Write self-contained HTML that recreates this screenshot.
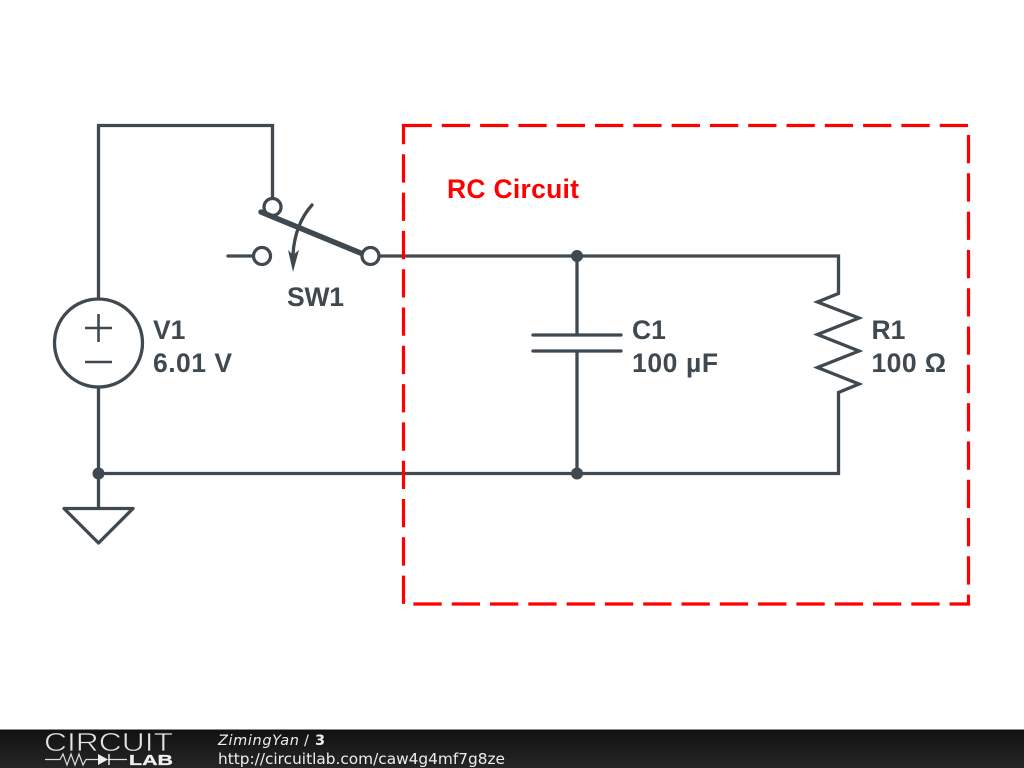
<!DOCTYPE html>
<html><head><meta charset="utf-8"><style>
html,body{margin:0;padding:0;background:#fff;width:1024px;height:768px;overflow:hidden}
svg{display:block}
</style></head><body>
<svg width="1024" height="768" viewBox="0 0 1024 768" xmlns="http://www.w3.org/2000/svg">
<defs><linearGradient id="g" x1="0" y1="0" x2="0" y2="1"><stop offset="0" stop-color="#111"/><stop offset="1" stop-color="#262626"/></linearGradient></defs>
<rect width="1024" height="768" fill="#fff"/>
<g fill="none" stroke="#40494f" stroke-width="3.300">
<path d="M98.500 299V125.500H272.500V199"/>
<path d="M379 256H838.500V293.500L817.500 302L859 318L817.500 334.500L859 351L817.500 367.500L859 384L838.500 392.500V473.500H98.500V387"/>
<path d="M577 256V335M577 351V473"/>
<path d="M533 335H621M533 351H621" stroke-linecap="round"/>
<path d="M98.500 473V508M64 508.500H133L98.500 543Z" stroke-linejoin="round"/>
<circle cx="98.500" cy="343" r="44"/>
<path d="M85 328H112M98.500 314V342M85 362H112" stroke-width="2.600"/>
<path d="M228 256H254" stroke-linecap="round"/>
<circle cx="272.500" cy="207" r="8.500" fill="#fff"/>
<circle cx="262" cy="256" r="8.500" fill="#fff"/>
<path d="M261 212L363 254" stroke-width="5.500" stroke-linecap="round"/>
<circle cx="370.500" cy="256" r="8.500" fill="#fff"/>
<path d="M312 205Q295 224 293 254" stroke-linecap="round"/>
</g>
<path d="M293 272L288 250L293 255L299 250Z" fill="#40494f"/>
<circle cx="577" cy="256" r="6" fill="#40494f"/>
<circle cx="577" cy="473.500" r="6" fill="#40494f"/>
<circle cx="98.500" cy="473.500" r="6" fill="#40494f"/>
<path d="M403.500 125.500H968.500V604H403.500Z" fill="none" stroke="#f00" stroke-width="3.200" stroke-dasharray="28.300 10"/>
<g font-family="'Liberation Sans',sans-serif" font-weight="bold" font-size="26.500" fill="#40494f">
<text x="153" y="339">V1</text>
<text x="153" y="372" textLength="79" lengthAdjust="spacing">6.01 V</text>
<text x="287" y="306" textLength="57" lengthAdjust="spacing">SW1</text>
<text x="632" y="339">C1</text>
<text x="632" y="372" textLength="86" lengthAdjust="spacing">100 µF</text>
<text x="871.500" y="339">R1</text>
<text x="871.500" y="372" textLength="74.500" lengthAdjust="spacing">100 Ω</text>
<text x="447" y="198" fill="#f00" textLength="132" lengthAdjust="spacing">RC Circuit</text>
</g>
<rect y="729" width="1024" height="39" fill="url(#g)"/>
<rect y="729" width="1024" height="1" fill="#888"/>
<text x="44" y="751" font-family="'Liberation Sans',sans-serif" font-size="26" fill="#e4e4e4" stroke="#1a1a1a" stroke-width="0.700" textLength="129" lengthAdjust="spacingAndGlyphs">CIRCUIT</text>
<path d="M45 759.500H60L63 754L67 765L71 754L75 765L79 754L83 765L86 759.500H98M108 759.500H127" fill="none" stroke="#ddd" stroke-width="1.200"/>
<path d="M98 754L108 759.500L98 765Z" fill="#eee"/><path d="M109 754V765" stroke="#eee" stroke-width="1.500"/>
<text x="129" y="765" font-family="'Liberation Sans',sans-serif" font-weight="bold" font-size="15" fill="#eee" stroke="#eee" stroke-width="0.300" textLength="44" lengthAdjust="spacingAndGlyphs">LAB</text>
<g font-family="'DejaVu Sans',sans-serif" fill="#eee">
<text x="218" y="745" font-size="14.500" font-style="italic" textLength="81" lengthAdjust="spacing">ZimingYan</text>
<text x="304" y="745" font-size="14.500">/</text>
<text x="315" y="745" font-size="14.500" font-weight="bold">3</text>
<text x="218" y="764" font-size="15" textLength="287" lengthAdjust="spacingAndGlyphs">http://circuitlab.com/caw4g4mf7g8ze</text>
</g>
</svg>
</body></html>
